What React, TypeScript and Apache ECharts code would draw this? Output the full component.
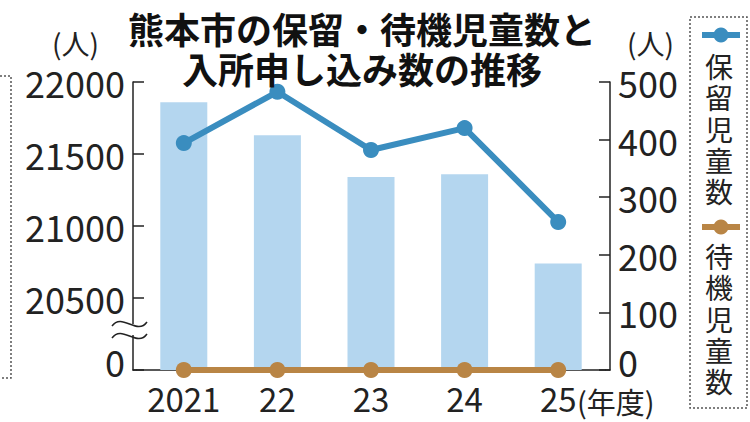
import React, { useEffect, useRef } from "react";
import * as echarts from "echarts";

const years = ["2021", "22", "23", "24", "25"];
const applications = [21860, 21630, 21340, 21360, 20740];
const onHold = [394, 483, 382, 420, 257];
const waiting = [0, 0, 0, 0, 0];
const titleLines = ["熊本市の保留・待機児童数と", "入所申し込み数の推移"];
const legendHold = ["保", "留", "児", "童", "数"];
const legendWait = ["待", "機", "児", "童", "数"];

const FONT = '"Noto Sans CJK JP", "Noto Sans", sans-serif';
const BLUE = "#3a8dbf";
const BROWN = "#b98545";
const BAR = "#b4d6ef";
const INK = "#222";

export default function App() {
  const ref = useRef<HTMLDivElement>(null);
  useEffect(() => {
    document.body.style.margin = "0";
    const chart = echarts.init(ref.current!, undefined, { renderer: "svg" });
    const legendChars = (chars: string[], top: number) =>
      chars.map((c, i) => ({
        type: "text",
        x: 719,
        y: top + i * 31.4 + 15.7,
        style: {
          text: c,
          font: `28px ${FONT}`,
          fill: INK,
          textAlign: "center",
          textVerticalAlign: "middle",
        },
      }));
    const zeroRich = { z: { fontFamily: FONT, fontSize: 36, color: INK, padding: [0, 0, 18, 0] } };
    chart.setOption({
      animation: false,
      backgroundColor: "#fff",
      title: {
        text: titleLines.join("\n"),
        left: 357,
        top: 3,
        textAlign: "center",
        textStyle: {
          fontFamily: FONT,
          fontSize: 36,
          fontWeight: "bold",
          lineHeight: 40,
          color: "#111",
        },
      },
      grid: { left: 137, right: 145, top: 82, bottom: 52 },
      xAxis: {
        type: "category",
        data: years,
        axisLine: { lineStyle: { color: INK, width: 1.5 } },
        axisTick: { show: false },
        axisLabel: { fontFamily: FONT, fontSize: 33, color: INK, margin: 11, interval: 0 },
      },
      yAxis: [
        {
          type: "value",
          position: "left",
          offset: 4,
          min: 20000,
          max: 22000,
          interval: 500,
          axisLine: { show: true, lineStyle: { color: INK, width: 1.5 } },
          axisTick: { show: true, inside: true, length: 11, lineStyle: { color: INK, width: 1.5 } },
          splitLine: { show: false },
          axisLabel: {
            fontFamily: FONT,
            fontSize: 36,
            color: INK,
            margin: 8,
            formatter: (v: number) => (v === 20000 ? "{z|0}" : String(v)),
            rich: zeroRich,
          },
        },
        {
          type: "value",
          position: "right",
          offset: 5,
          min: 0,
          max: 500,
          interval: 100,
          axisLine: { show: true, lineStyle: { color: INK, width: 1.5 } },
          axisTick: { show: true, inside: true, length: 11, lineStyle: { color: INK, width: 1.5 } },
          splitLine: { show: false },
          axisLabel: {
            fontFamily: FONT,
            fontSize: 36,
            color: INK,
            margin: 8,
            formatter: (v: number) => (v === 0 ? "{z|0}" : String(v)),
            rich: zeroRich,
          },
        },
      ],
      series: [
        {
          name: "入所申し込み数",
          type: "bar",
          yAxisIndex: 0,
          data: applications,
          barWidth: 47,
          itemStyle: { color: BAR },
          z: 1,
        },
        {
          name: "保留児童数",
          type: "line",
          yAxisIndex: 1,
          data: onHold,
          symbol: "circle",
          symbolSize: 16,
          lineStyle: { color: BLUE, width: 6 },
          itemStyle: { color: BLUE },
          z: 3,
        },
        {
          name: "待機児童数",
          type: "line",
          yAxisIndex: 1,
          data: waiting,
          symbol: "circle",
          symbolSize: 16,
          lineStyle: { color: BROWN, width: 6 },
          itemStyle: { color: BROWN },
          z: 4,
        },
      ],
      graphic: [
        { type: "line", shape: { x1: 132.5, y1: 370, x2: 137, y2: 370 }, style: { stroke: INK, lineWidth: 1.5 } },
        { type: "line", shape: { x1: 605, y1: 370, x2: 610.5, y2: 370 }, style: { stroke: INK, lineWidth: 1.5 } },
        { type: "text", left: 52, top: 29, style: { text: "(人)", font: `28px ${FONT}`, fill: INK } },
        { type: "text", left: 627, top: 29, style: { text: "(人)", font: `28px ${FONT}`, fill: INK } },
        {
          type: "text",
          x: 577,
          y: 401,
          style: { text: "(年度)", font: `29px ${FONT}`, fill: INK, textVerticalAlign: "middle" },
        },
        { type: "rect", shape: { x: 128, y: 324, width: 10, height: 11 }, style: { fill: "#fff" }, z: 10 },
        {
          type: "bezierCurve",
          shape: { x1: 112, y1: 326, x2: 147, y2: 322, cpx1: 122, cpy1: 312, cpx2: 137, cpy2: 336 },
          style: { stroke: INK, lineWidth: 1.5, fill: null },
          z: 11,
        },
        {
          type: "bezierCurve",
          shape: { x1: 112, y1: 338, x2: 147, y2: 334, cpx1: 122, cpy1: 324, cpx2: 137, cpy2: 348 },
          style: { stroke: INK, lineWidth: 1.5, fill: null },
          z: 11,
        },
        {
          type: "polyline",
          shape: { points: [[0, 76], [11, 76], [11, 378], [0, 378]] },
          style: { stroke: "#555", lineWidth: 1.5, lineDash: [2, 2], fill: null },
        },
        {
          type: "rect",
          shape: { x: 690, y: 17, width: 57, height: 391 },
          style: { stroke: "#555", lineWidth: 1.5, lineDash: [2, 2], fill: null },
        },
        { type: "line", shape: { x1: 702, y1: 35, x2: 740, y2: 35 }, style: { stroke: BLUE, lineWidth: 6 } },
        { type: "circle", shape: { cx: 721, cy: 35, r: 7.5 }, style: { fill: BLUE } },
        ...legendChars(legendHold, 50),
        { type: "line", shape: { x1: 702, y1: 227, x2: 740, y2: 227 }, style: { stroke: BROWN, lineWidth: 6 } },
        { type: "circle", shape: { cx: 721, cy: 227, r: 7.5 }, style: { fill: BROWN } },
        ...legendChars(legendWait, 240),
      ],
    });
    return () => chart.dispose();
  }, []);
  return <div ref={ref} style={{ width: 750, height: 422 }} />;
}
